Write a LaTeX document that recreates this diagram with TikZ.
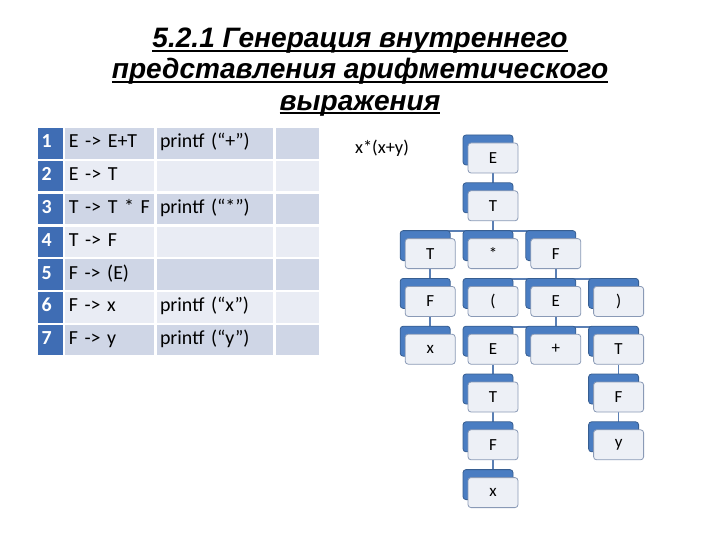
\documentclass[tikz,border=0pt]{standalone}
\usepackage{fontspec}
\setmainfont{Carlito}
\newfontfamily\titlefont{Liberation Sans}
\usetikzlibrary{matrix,backgrounds,positioning,shadows}

\definecolor{numblue}{HTML}{3F6DB4}
\definecolor{rowodd}{HTML}{CFD6E6}
\definecolor{roweven}{HTML}{E9ECF4}
\definecolor{boxfill}{HTML}{EDF0F6}
\definecolor{boxline}{HTML}{8A9AB6}
\definecolor{shadowblue}{HTML}{4A7DC2}
\definecolor{linkblue}{HTML}{5A7FB4}

\newcommand{\titleline}[1]{\sbox0{#1}\rlap{\usebox0}\rule[-4bp]{\wd0}{1.8bp}}

\begin{document}
\begin{tikzpicture}[x=1bp,y=-1bp,
  table/.style={matrix of nodes, column sep=0bp, row sep=0bp, nodes in empty cells,
    inner sep=0bp, outer sep=0bp,
    nodes={draw=white, line width=1.2bp, minimum height=31.6bp, inner xsep=4bp,
      text height=13bp, text depth=4bp, align=left, font=\fontsize{20}{24}\selectfont},
    column 1/.style={nodes={text width=18bp}},
    column 2/.style={nodes={text width=82bp}},
    column 3/.style={nodes={text width=110bp}},
    column 4/.style={nodes={text width=36bp}},
    row 1/.style={nodes={fill=rowodd}}, row 2/.style={nodes={fill=roweven}},
    row 3/.style={nodes={fill=rowodd}}, row 4/.style={nodes={fill=roweven}},
    row 5/.style={nodes={fill=rowodd}}, row 6/.style={nodes={fill=roweven}},
    row 7/.style={nodes={fill=rowodd}},
  },
  num/.style={fill=numblue, text=white, font=\fontsize{20}{24}\selectfont\bfseries},
  tnode/.style={draw=boxline, fill=boxfill, rounded corners=3bp, line width=0.8bp,
    minimum width=50bp, minimum height=30bp, font=\fontsize{17}{20}\selectfont,
    copy shadow={shadow xshift=-5bp, shadow yshift=8bp, fill=shadowblue, draw=shadowblue!75!black}},
  conn/.style={draw=linkblue, line width=1.6bp},
  node distance=17bp and 12bp]

\useasboundingbox (0,0) rectangle (720,540);

\node[font=\fontsize{28.2}{31.5}\selectfont\titlefont\bfseries\itshape, align=center] (title) at (360,72)
  {\titleline{5.2.1 Генерация внутреннего}\\\titleline{представления арифметического}\\\titleline{выражения}};

\matrix[table, anchor=north west] (tab) at (37,127) {
 |[num]| 1 & E -> E+T & printf (“+”) & \\
 |[num]| 2 & E -> T & & \\
 |[num]| 3 & T -> T * F & printf (“*”) & \\
 |[num]| 4 & T -> F & & \\
 |[num]| 5 & F -> (E) & & \\
 |[num]| 6 & F -> x & printf (“x”) & \\
 |[num]| 7 & F -> y & printf (“y”) & \\ };

\node[font=\fontsize{18.5}{22}\selectfont] (expr) at (382,148) {x*(x+y)};

% parse tree
\node[tnode] (E0) at (493,158) {E};
\node[tnode, below=of E0] (T0) {T};
\node[tnode, below=of T0] (mul) {*};
\node[tnode, left=of mul] (T1) {T};
\node[tnode, right=of mul] (F1) {F};
\node[tnode, below=of T1] (F2) {F};
\node[tnode, below=of F2] (x1) {x};
\node[tnode, below=of mul] (lpar) {(};
\node[tnode, right=of lpar] (E1) {E};
\node[tnode, right=of E1] (rpar) {)};
\node[tnode, below=of lpar] (E2) {E};
\node[tnode, below=of E1] (plus) {+};
\node[tnode, below=of rpar] (T3) {T};
\node[tnode, below=of E2] (T2) {T};
\node[tnode, below=of T2] (F3) {F};
\node[tnode, below=of F3] (x2) {x};
\node[tnode, below=of T3] (F4) {F};
\node[tnode, below=of F4] (y1) {y};

\begin{scope}[on background layer]
\draw[conn] (E0) -- (T0);
\foreach \c in {T1,mul,F1} \draw[conn] (T0.south) -- ++(0,10) -| (\c.north);
\foreach \c in {lpar,E1,rpar} \draw[conn] (F1.south) -- ++(0,10) -| (\c.north);
\foreach \c in {E2,plus,T3} \draw[conn] (E1.south) -- ++(0,10) -| (\c.north);
\draw[conn] (T1) -- (F2) -- (x1);
\draw[conn] (E2) -- (T2) -- (F3) -- (x2);
\draw[conn] (T3) -- (F4) -- (y1);
\end{scope}

\end{tikzpicture}
\end{document}
